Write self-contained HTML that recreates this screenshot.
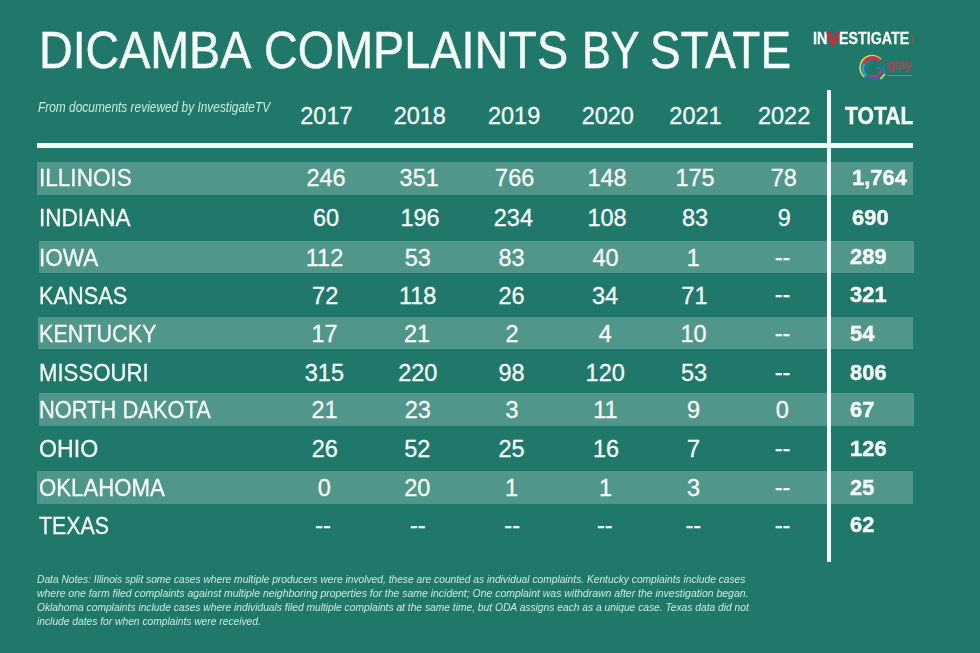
<!DOCTYPE html>
<html><head><meta charset="utf-8"><style>
html,body{margin:0;padding:0;}
body{width:980px;height:653px;background:#20786a;position:relative;overflow:hidden;font-family:"Liberation Sans",sans-serif;}
.t{position:absolute;white-space:nowrap;}
.r{position:absolute;}
</style></head><body>
<div class="r" style="left:37.00px;top:162.00px;width:875.50px;height:32.60px;background:#51968a"></div>
<div class="r" style="left:39.00px;top:241.00px;width:875.20px;height:32.30px;background:#51968a"></div>
<div class="r" style="left:37.50px;top:316.80px;width:875.90px;height:32.60px;background:#51968a"></div>
<div class="r" style="left:38.50px;top:393.00px;width:875.70px;height:32.70px;background:#51968a"></div>
<div class="r" style="left:37.00px;top:470.60px;width:876.00px;height:33.00px;background:#51968a"></div>
<div class="r" style="left:37.00px;top:143.00px;width:876.00px;height:5.00px;background:#f6fbf8"></div>
<div class="r" style="left:827.00px;top:90.00px;width:4.00px;height:472.00px;background:#f6fbf8"></div>
<div class="t" style="left:38.87px;top:24.3px;font-size:52.4px;line-height:52.4px;color:#f6fbf8;transform:scaleX(0.8893);transform-origin:0 0;-webkit-text-stroke:0.5px #f6fbf8">DICAMBA</div>
<div class="t" style="left:263.85px;top:24.3px;font-size:52.4px;line-height:52.4px;color:#f6fbf8;transform:scaleX(0.8928);transform-origin:0 0;-webkit-text-stroke:0.5px #f6fbf8">COMPLAINTS</div>
<div class="t" style="left:581.93px;top:24.3px;font-size:52.4px;line-height:52.4px;color:#f6fbf8;transform:scaleX(0.8234);transform-origin:0 0;-webkit-text-stroke:0.5px #f6fbf8">BY</div>
<div class="t" style="left:649.70px;top:24.3px;font-size:52.4px;line-height:52.4px;color:#f6fbf8;transform:scaleX(0.8752);transform-origin:0 0;-webkit-text-stroke:0.5px #f6fbf8">STATE</div>
<div class="t" style="left:812.6px;top:30.1px;font-size:16px;line-height:18px;font-weight:700;color:#f6fbf8;-webkit-text-stroke:0.3px #f6fbf8;transform:scaleX(0.91);transform-origin:0 0">IN</div>
<div class="t" style="left:838.9px;top:30.1px;font-size:16px;line-height:18px;font-weight:700;color:#f6fbf8;-webkit-text-stroke:0.3px #f6fbf8;transform:scaleX(0.89);transform-origin:0 0">ESTIGATE</div>
<svg class="r" style="left:0;top:0;filter:blur(0.3px)" width="980" height="60"><polygon points="826,32.1 830.2,32.1 833.2,40.5 836.2,32.1 840.2,32.1 834.7,45.6 831.2,45.6" fill="#d8253e"/></svg>
<div class="r" style="left:912px;top:35px;width:2px;height:10px;background:#b04850;opacity:0.45"></div>
<svg class="r" style="left:856.4px;top:50.7px;filter:blur(0.45px)" width="36" height="34" viewBox="0 0 36 34">
<path d="M24.5 7.8 A11.5 11.5 0 1 0 7.8 25.5" fill="none" stroke="#e6d03e" stroke-width="1.7" stroke-linecap="round"/>
<path d="M23.8 9.8 A9.6 9.6 0 0 0 8 12.8" fill="none" stroke="#d8303c" stroke-width="3"/>
<path d="M8 12.8 A9.6 9.6 0 0 0 10.5 25" fill="none" stroke="#22a4dc" stroke-width="2.4"/>
<path d="M10.5 25 A9.6 9.6 0 0 0 25.5 23" fill="none" stroke="#2c64c4" stroke-width="2.4"/>
<path d="M13 24 A8 8 0 0 0 24.5 21 L26 17.5" fill="none" stroke="#d53452" stroke-width="1.8"/>
<path d="M10 16 A7.5 7.5 0 0 1 16.5 9.5" fill="none" stroke="#2a7ad0" stroke-width="1.4"/>
<path d="M20 17.2 L28 17.2 L28.5 22" fill="none" stroke="#2f6ec8" stroke-width="1.8"/>
<path d="M24.5 28 L29 23" fill="none" stroke="#e6de46" stroke-width="1.8"/>
</svg>
<div class="t" style="left:887.5px;top:56.8px;font-size:13px;line-height:16px;font-weight:400;color:#c43f4e;-webkit-text-stroke:0.3px #c43f4e;transform:scaleX(0.95);transform-origin:0 0;">gray</div>
<div class="r" style="left:888px;top:74.5px;width:24px;height:1px;background:#9ab4ac;opacity:0.45"></div>

<div class="t" style="left:37.80px;top:99.04px;font-size:15px;line-height:15px;font-weight:400;font-style:italic;color:#cbeade;transform:scaleX(0.7935);transform-origin:0 0;">From documents reviewed by InvestigateTV</div>
<div class="t" style="left:126.40px;width:400px;text-align:center;top:105.13px;font-size:23.5px;line-height:23.5px;font-weight:400;font-style:normal;color:#f6fbf8;transform:scaleX(1.0);transform-origin:50% 0;-webkit-text-stroke:0.3px #f6fbf8;">2017</div>
<div class="t" style="left:219.80px;width:400px;text-align:center;top:105.13px;font-size:23.5px;line-height:23.5px;font-weight:400;font-style:normal;color:#f6fbf8;transform:scaleX(1.0);transform-origin:50% 0;-webkit-text-stroke:0.3px #f6fbf8;">2018</div>
<div class="t" style="left:314.10px;width:400px;text-align:center;top:105.13px;font-size:23.5px;line-height:23.5px;font-weight:400;font-style:normal;color:#f6fbf8;transform:scaleX(1.0);transform-origin:50% 0;-webkit-text-stroke:0.3px #f6fbf8;">2019</div>
<div class="t" style="left:407.80px;width:400px;text-align:center;top:105.13px;font-size:23.5px;line-height:23.5px;font-weight:400;font-style:normal;color:#f6fbf8;transform:scaleX(1.0);transform-origin:50% 0;-webkit-text-stroke:0.3px #f6fbf8;">2020</div>
<div class="t" style="left:495.50px;width:400px;text-align:center;top:105.13px;font-size:23.5px;line-height:23.5px;font-weight:400;font-style:normal;color:#f6fbf8;transform:scaleX(1.0);transform-origin:50% 0;-webkit-text-stroke:0.3px #f6fbf8;">2021</div>
<div class="t" style="left:584.10px;width:400px;text-align:center;top:105.13px;font-size:23.5px;line-height:23.5px;font-weight:400;font-style:normal;color:#f6fbf8;transform:scaleX(1.0);transform-origin:50% 0;-webkit-text-stroke:0.3px #f6fbf8;">2022</div>
<div class="t" style="left:845.20px;top:104.53px;font-size:23.5px;line-height:23.5px;font-weight:700;font-style:normal;color:#f6fbf8;transform:scaleX(0.9);transform-origin:0 0;-webkit-text-stroke:0.45px #f6fbf8;">TOTAL</div>
<div class="t" style="left:38.50px;top:167.03px;font-size:23.5px;line-height:23.5px;font-weight:400;font-style:normal;color:#f6fbf8;transform:scaleX(0.96);transform-origin:0 0;-webkit-text-stroke:0.3px #f6fbf8;">ILLINOIS</div>
<div class="t" style="left:126.00px;width:400px;text-align:center;top:167.03px;font-size:23.5px;line-height:23.5px;font-weight:400;font-style:normal;color:#f6fbf8;transform:scaleX(1.0);transform-origin:50% 0;-webkit-text-stroke:0.3px #f6fbf8;">246</div>
<div class="t" style="left:219.20px;width:400px;text-align:center;top:167.03px;font-size:23.5px;line-height:23.5px;font-weight:400;font-style:normal;color:#f6fbf8;transform:scaleX(1.0);transform-origin:50% 0;-webkit-text-stroke:0.3px #f6fbf8;">351</div>
<div class="t" style="left:314.70px;width:400px;text-align:center;top:167.03px;font-size:23.5px;line-height:23.5px;font-weight:400;font-style:normal;color:#f6fbf8;transform:scaleX(1.0);transform-origin:50% 0;-webkit-text-stroke:0.3px #f6fbf8;">766</div>
<div class="t" style="left:407.00px;width:400px;text-align:center;top:167.03px;font-size:23.5px;line-height:23.5px;font-weight:400;font-style:normal;color:#f6fbf8;transform:scaleX(1.0);transform-origin:50% 0;-webkit-text-stroke:0.3px #f6fbf8;">148</div>
<div class="t" style="left:495.00px;width:400px;text-align:center;top:167.03px;font-size:23.5px;line-height:23.5px;font-weight:400;font-style:normal;color:#f6fbf8;transform:scaleX(1.0);transform-origin:50% 0;-webkit-text-stroke:0.3px #f6fbf8;">175</div>
<div class="t" style="left:583.80px;width:400px;text-align:center;top:167.03px;font-size:23.5px;line-height:23.5px;font-weight:400;font-style:normal;color:#f6fbf8;transform:scaleX(1.0);transform-origin:50% 0;-webkit-text-stroke:0.3px #f6fbf8;">78</div>
<div class="t" style="left:852.00px;top:167.79px;font-size:21.5px;line-height:21.5px;font-weight:700;font-style:normal;color:#f6fbf8;transform:scaleX(1.02);transform-origin:0 0;-webkit-text-stroke:0.45px #f6fbf8;">1,764</div>
<div class="t" style="left:38.50px;top:207.43px;font-size:23.5px;line-height:23.5px;font-weight:400;font-style:normal;color:#f6fbf8;transform:scaleX(0.96);transform-origin:0 0;-webkit-text-stroke:0.3px #f6fbf8;">INDIANA</div>
<div class="t" style="left:126.00px;width:400px;text-align:center;top:207.43px;font-size:23.5px;line-height:23.5px;font-weight:400;font-style:normal;color:#f6fbf8;transform:scaleX(1.0);transform-origin:50% 0;-webkit-text-stroke:0.3px #f6fbf8;">60</div>
<div class="t" style="left:220.10px;width:400px;text-align:center;top:207.43px;font-size:23.5px;line-height:23.5px;font-weight:400;font-style:normal;color:#f6fbf8;transform:scaleX(1.0);transform-origin:50% 0;-webkit-text-stroke:0.3px #f6fbf8;">196</div>
<div class="t" style="left:313.40px;width:400px;text-align:center;top:207.43px;font-size:23.5px;line-height:23.5px;font-weight:400;font-style:normal;color:#f6fbf8;transform:scaleX(1.0);transform-origin:50% 0;-webkit-text-stroke:0.3px #f6fbf8;">234</div>
<div class="t" style="left:407.00px;width:400px;text-align:center;top:207.43px;font-size:23.5px;line-height:23.5px;font-weight:400;font-style:normal;color:#f6fbf8;transform:scaleX(1.0);transform-origin:50% 0;-webkit-text-stroke:0.3px #f6fbf8;">108</div>
<div class="t" style="left:495.00px;width:400px;text-align:center;top:207.43px;font-size:23.5px;line-height:23.5px;font-weight:400;font-style:normal;color:#f6fbf8;transform:scaleX(1.0);transform-origin:50% 0;-webkit-text-stroke:0.3px #f6fbf8;">83</div>
<div class="t" style="left:584.20px;width:400px;text-align:center;top:207.43px;font-size:23.5px;line-height:23.5px;font-weight:400;font-style:normal;color:#f6fbf8;transform:scaleX(1.0);transform-origin:50% 0;-webkit-text-stroke:0.3px #f6fbf8;">9</div>
<div class="t" style="left:852.00px;top:208.19px;font-size:21.5px;line-height:21.5px;font-weight:700;font-style:normal;color:#f6fbf8;transform:scaleX(1.02);transform-origin:0 0;-webkit-text-stroke:0.45px #f6fbf8;">690</div>
<div class="t" style="left:38.50px;top:246.63px;font-size:23.5px;line-height:23.5px;font-weight:400;font-style:normal;color:#f6fbf8;transform:scaleX(0.96);transform-origin:0 0;-webkit-text-stroke:0.3px #f6fbf8;">IOWA</div>
<div class="t" style="left:124.50px;width:400px;text-align:center;top:246.63px;font-size:23.5px;line-height:23.5px;font-weight:400;font-style:normal;color:#f6fbf8;transform:scaleX(1.0);transform-origin:50% 0;-webkit-text-stroke:0.3px #f6fbf8;">112</div>
<div class="t" style="left:217.80px;width:400px;text-align:center;top:246.63px;font-size:23.5px;line-height:23.5px;font-weight:400;font-style:normal;color:#f6fbf8;transform:scaleX(1.0);transform-origin:50% 0;-webkit-text-stroke:0.3px #f6fbf8;">53</div>
<div class="t" style="left:311.50px;width:400px;text-align:center;top:246.63px;font-size:23.5px;line-height:23.5px;font-weight:400;font-style:normal;color:#f6fbf8;transform:scaleX(1.0);transform-origin:50% 0;-webkit-text-stroke:0.3px #f6fbf8;">83</div>
<div class="t" style="left:405.50px;width:400px;text-align:center;top:246.63px;font-size:23.5px;line-height:23.5px;font-weight:400;font-style:normal;color:#f6fbf8;transform:scaleX(1.0);transform-origin:50% 0;-webkit-text-stroke:0.3px #f6fbf8;">40</div>
<div class="t" style="left:493.40px;width:400px;text-align:center;top:246.63px;font-size:23.5px;line-height:23.5px;font-weight:400;font-style:normal;color:#f6fbf8;transform:scaleX(1.0);transform-origin:50% 0;-webkit-text-stroke:0.3px #f6fbf8;">1</div>
<div class="t" style="left:582.50px;width:400px;text-align:center;top:245.53px;font-size:23.5px;line-height:23.5px;font-weight:400;font-style:normal;color:#f6fbf8;transform:scaleX(1.0);transform-origin:50% 0;-webkit-text-stroke:0.3px #f6fbf8;">--</div>
<div class="t" style="left:850.20px;top:247.39px;font-size:21.5px;line-height:21.5px;font-weight:700;font-style:normal;color:#f6fbf8;transform:scaleX(1.02);transform-origin:0 0;-webkit-text-stroke:0.45px #f6fbf8;">289</div>
<div class="t" style="left:38.50px;top:284.53px;font-size:23.5px;line-height:23.5px;font-weight:400;font-style:normal;color:#f6fbf8;transform:scaleX(0.9242033898305085);transform-origin:0 0;-webkit-text-stroke:0.3px #f6fbf8;">KANSAS</div>
<div class="t" style="left:125.20px;width:400px;text-align:center;top:284.53px;font-size:23.5px;line-height:23.5px;font-weight:400;font-style:normal;color:#f6fbf8;transform:scaleX(1.0);transform-origin:50% 0;-webkit-text-stroke:0.3px #f6fbf8;">72</div>
<div class="t" style="left:217.70px;width:400px;text-align:center;top:284.53px;font-size:23.5px;line-height:23.5px;font-weight:400;font-style:normal;color:#f6fbf8;transform:scaleX(1.0);transform-origin:50% 0;-webkit-text-stroke:0.3px #f6fbf8;">118</div>
<div class="t" style="left:311.50px;width:400px;text-align:center;top:284.53px;font-size:23.5px;line-height:23.5px;font-weight:400;font-style:normal;color:#f6fbf8;transform:scaleX(1.0);transform-origin:50% 0;-webkit-text-stroke:0.3px #f6fbf8;">26</div>
<div class="t" style="left:405.00px;width:400px;text-align:center;top:284.53px;font-size:23.5px;line-height:23.5px;font-weight:400;font-style:normal;color:#f6fbf8;transform:scaleX(1.0);transform-origin:50% 0;-webkit-text-stroke:0.3px #f6fbf8;">34</div>
<div class="t" style="left:494.40px;width:400px;text-align:center;top:284.53px;font-size:23.5px;line-height:23.5px;font-weight:400;font-style:normal;color:#f6fbf8;transform:scaleX(1.0);transform-origin:50% 0;-webkit-text-stroke:0.3px #f6fbf8;">71</div>
<div class="t" style="left:582.50px;width:400px;text-align:center;top:283.43px;font-size:23.5px;line-height:23.5px;font-weight:400;font-style:normal;color:#f6fbf8;transform:scaleX(1.0);transform-origin:50% 0;-webkit-text-stroke:0.3px #f6fbf8;">--</div>
<div class="t" style="left:850.20px;top:285.29px;font-size:21.5px;line-height:21.5px;font-weight:700;font-style:normal;color:#f6fbf8;transform:scaleX(1.02);transform-origin:0 0;-webkit-text-stroke:0.45px #f6fbf8;">321</div>
<div class="t" style="left:38.50px;top:323.33px;font-size:23.5px;line-height:23.5px;font-weight:400;font-style:normal;color:#f6fbf8;transform:scaleX(0.9177759336099585);transform-origin:0 0;-webkit-text-stroke:0.3px #f6fbf8;">KENTUCKY</div>
<div class="t" style="left:124.50px;width:400px;text-align:center;top:323.33px;font-size:23.5px;line-height:23.5px;font-weight:400;font-style:normal;color:#f6fbf8;transform:scaleX(1.0);transform-origin:50% 0;-webkit-text-stroke:0.3px #f6fbf8;">17</div>
<div class="t" style="left:217.00px;width:400px;text-align:center;top:323.33px;font-size:23.5px;line-height:23.5px;font-weight:400;font-style:normal;color:#f6fbf8;transform:scaleX(1.0);transform-origin:50% 0;-webkit-text-stroke:0.3px #f6fbf8;">21</div>
<div class="t" style="left:312.00px;width:400px;text-align:center;top:323.33px;font-size:23.5px;line-height:23.5px;font-weight:400;font-style:normal;color:#f6fbf8;transform:scaleX(1.0);transform-origin:50% 0;-webkit-text-stroke:0.3px #f6fbf8;">2</div>
<div class="t" style="left:405.40px;width:400px;text-align:center;top:323.33px;font-size:23.5px;line-height:23.5px;font-weight:400;font-style:normal;color:#f6fbf8;transform:scaleX(1.0);transform-origin:50% 0;-webkit-text-stroke:0.3px #f6fbf8;">4</div>
<div class="t" style="left:493.50px;width:400px;text-align:center;top:323.33px;font-size:23.5px;line-height:23.5px;font-weight:400;font-style:normal;color:#f6fbf8;transform:scaleX(1.0);transform-origin:50% 0;-webkit-text-stroke:0.3px #f6fbf8;">10</div>
<div class="t" style="left:582.50px;width:400px;text-align:center;top:322.23px;font-size:23.5px;line-height:23.5px;font-weight:400;font-style:normal;color:#f6fbf8;transform:scaleX(1.0);transform-origin:50% 0;-webkit-text-stroke:0.3px #f6fbf8;">--</div>
<div class="t" style="left:850.20px;top:324.09px;font-size:21.5px;line-height:21.5px;font-weight:700;font-style:normal;color:#f6fbf8;transform:scaleX(1.02);transform-origin:0 0;-webkit-text-stroke:0.45px #f6fbf8;">54</div>
<div class="t" style="left:38.50px;top:361.93px;font-size:23.5px;line-height:23.5px;font-weight:400;font-style:normal;color:#f6fbf8;transform:scaleX(0.9430325581395348);transform-origin:0 0;-webkit-text-stroke:0.3px #f6fbf8;">MISSOURI</div>
<div class="t" style="left:124.40px;width:400px;text-align:center;top:361.93px;font-size:23.5px;line-height:23.5px;font-weight:400;font-style:normal;color:#f6fbf8;transform:scaleX(1.0);transform-origin:50% 0;-webkit-text-stroke:0.3px #f6fbf8;">315</div>
<div class="t" style="left:217.80px;width:400px;text-align:center;top:361.93px;font-size:23.5px;line-height:23.5px;font-weight:400;font-style:normal;color:#f6fbf8;transform:scaleX(1.0);transform-origin:50% 0;-webkit-text-stroke:0.3px #f6fbf8;">220</div>
<div class="t" style="left:311.50px;width:400px;text-align:center;top:361.93px;font-size:23.5px;line-height:23.5px;font-weight:400;font-style:normal;color:#f6fbf8;transform:scaleX(1.0);transform-origin:50% 0;-webkit-text-stroke:0.3px #f6fbf8;">98</div>
<div class="t" style="left:405.20px;width:400px;text-align:center;top:361.93px;font-size:23.5px;line-height:23.5px;font-weight:400;font-style:normal;color:#f6fbf8;transform:scaleX(1.0);transform-origin:50% 0;-webkit-text-stroke:0.3px #f6fbf8;">120</div>
<div class="t" style="left:494.10px;width:400px;text-align:center;top:361.93px;font-size:23.5px;line-height:23.5px;font-weight:400;font-style:normal;color:#f6fbf8;transform:scaleX(1.0);transform-origin:50% 0;-webkit-text-stroke:0.3px #f6fbf8;">53</div>
<div class="t" style="left:582.50px;width:400px;text-align:center;top:360.83px;font-size:23.5px;line-height:23.5px;font-weight:400;font-style:normal;color:#f6fbf8;transform:scaleX(1.0);transform-origin:50% 0;-webkit-text-stroke:0.3px #f6fbf8;">--</div>
<div class="t" style="left:850.20px;top:362.69px;font-size:21.5px;line-height:21.5px;font-weight:700;font-style:normal;color:#f6fbf8;transform:scaleX(1.02);transform-origin:0 0;-webkit-text-stroke:0.45px #f6fbf8;">806</div>
<div class="t" style="left:38.50px;top:399.43px;font-size:23.5px;line-height:23.5px;font-weight:400;font-style:normal;color:#f6fbf8;transform:scaleX(0.9315555555555556);transform-origin:0 0;-webkit-text-stroke:0.3px #f6fbf8;">NORTH DAKOTA</div>
<div class="t" style="left:124.60px;width:400px;text-align:center;top:399.43px;font-size:23.5px;line-height:23.5px;font-weight:400;font-style:normal;color:#f6fbf8;transform:scaleX(1.0);transform-origin:50% 0;-webkit-text-stroke:0.3px #f6fbf8;">21</div>
<div class="t" style="left:217.80px;width:400px;text-align:center;top:399.43px;font-size:23.5px;line-height:23.5px;font-weight:400;font-style:normal;color:#f6fbf8;transform:scaleX(1.0);transform-origin:50% 0;-webkit-text-stroke:0.3px #f6fbf8;">23</div>
<div class="t" style="left:312.00px;width:400px;text-align:center;top:399.43px;font-size:23.5px;line-height:23.5px;font-weight:400;font-style:normal;color:#f6fbf8;transform:scaleX(1.0);transform-origin:50% 0;-webkit-text-stroke:0.3px #f6fbf8;">3</div>
<div class="t" style="left:405.50px;width:400px;text-align:center;top:399.43px;font-size:23.5px;line-height:23.5px;font-weight:400;font-style:normal;color:#f6fbf8;transform:scaleX(1.0);transform-origin:50% 0;-webkit-text-stroke:0.3px #f6fbf8;">11</div>
<div class="t" style="left:493.60px;width:400px;text-align:center;top:399.43px;font-size:23.5px;line-height:23.5px;font-weight:400;font-style:normal;color:#f6fbf8;transform:scaleX(1.0);transform-origin:50% 0;-webkit-text-stroke:0.3px #f6fbf8;">9</div>
<div class="t" style="left:582.20px;width:400px;text-align:center;top:399.43px;font-size:23.5px;line-height:23.5px;font-weight:400;font-style:normal;color:#f6fbf8;transform:scaleX(1.0);transform-origin:50% 0;-webkit-text-stroke:0.3px #f6fbf8;">0</div>
<div class="t" style="left:850.20px;top:400.19px;font-size:21.5px;line-height:21.5px;font-weight:700;font-style:normal;color:#f6fbf8;transform:scaleX(1.02);transform-origin:0 0;-webkit-text-stroke:0.45px #f6fbf8;">67</div>
<div class="t" style="left:38.50px;top:437.83px;font-size:23.5px;line-height:23.5px;font-weight:400;font-style:normal;color:#f6fbf8;transform:scaleX(0.9846605504587155);transform-origin:0 0;-webkit-text-stroke:0.3px #f6fbf8;">OHIO</div>
<div class="t" style="left:124.80px;width:400px;text-align:center;top:437.83px;font-size:23.5px;line-height:23.5px;font-weight:400;font-style:normal;color:#f6fbf8;transform:scaleX(1.0);transform-origin:50% 0;-webkit-text-stroke:0.3px #f6fbf8;">26</div>
<div class="t" style="left:217.30px;width:400px;text-align:center;top:437.83px;font-size:23.5px;line-height:23.5px;font-weight:400;font-style:normal;color:#f6fbf8;transform:scaleX(1.0);transform-origin:50% 0;-webkit-text-stroke:0.3px #f6fbf8;">52</div>
<div class="t" style="left:311.50px;width:400px;text-align:center;top:437.83px;font-size:23.5px;line-height:23.5px;font-weight:400;font-style:normal;color:#f6fbf8;transform:scaleX(1.0);transform-origin:50% 0;-webkit-text-stroke:0.3px #f6fbf8;">25</div>
<div class="t" style="left:406.00px;width:400px;text-align:center;top:437.83px;font-size:23.5px;line-height:23.5px;font-weight:400;font-style:normal;color:#f6fbf8;transform:scaleX(1.0);transform-origin:50% 0;-webkit-text-stroke:0.3px #f6fbf8;">16</div>
<div class="t" style="left:493.60px;width:400px;text-align:center;top:437.83px;font-size:23.5px;line-height:23.5px;font-weight:400;font-style:normal;color:#f6fbf8;transform:scaleX(1.0);transform-origin:50% 0;-webkit-text-stroke:0.3px #f6fbf8;">7</div>
<div class="t" style="left:582.50px;width:400px;text-align:center;top:436.73px;font-size:23.5px;line-height:23.5px;font-weight:400;font-style:normal;color:#f6fbf8;transform:scaleX(1.0);transform-origin:50% 0;-webkit-text-stroke:0.3px #f6fbf8;">--</div>
<div class="t" style="left:850.20px;top:438.59px;font-size:21.5px;line-height:21.5px;font-weight:700;font-style:normal;color:#f6fbf8;transform:scaleX(1.02);transform-origin:0 0;-webkit-text-stroke:0.45px #f6fbf8;">126</div>
<div class="t" style="left:38.50px;top:477.13px;font-size:23.5px;line-height:23.5px;font-weight:400;font-style:normal;color:#f6fbf8;transform:scaleX(0.9448221343873517);transform-origin:0 0;-webkit-text-stroke:0.3px #f6fbf8;">OKLAHOMA</div>
<div class="t" style="left:124.30px;width:400px;text-align:center;top:477.13px;font-size:23.5px;line-height:23.5px;font-weight:400;font-style:normal;color:#f6fbf8;transform:scaleX(1.0);transform-origin:50% 0;-webkit-text-stroke:0.3px #f6fbf8;">0</div>
<div class="t" style="left:217.30px;width:400px;text-align:center;top:477.13px;font-size:23.5px;line-height:23.5px;font-weight:400;font-style:normal;color:#f6fbf8;transform:scaleX(1.0);transform-origin:50% 0;-webkit-text-stroke:0.3px #f6fbf8;">20</div>
<div class="t" style="left:311.50px;width:400px;text-align:center;top:477.13px;font-size:23.5px;line-height:23.5px;font-weight:400;font-style:normal;color:#f6fbf8;transform:scaleX(1.0);transform-origin:50% 0;-webkit-text-stroke:0.3px #f6fbf8;">1</div>
<div class="t" style="left:405.50px;width:400px;text-align:center;top:477.13px;font-size:23.5px;line-height:23.5px;font-weight:400;font-style:normal;color:#f6fbf8;transform:scaleX(1.0);transform-origin:50% 0;-webkit-text-stroke:0.3px #f6fbf8;">1</div>
<div class="t" style="left:493.60px;width:400px;text-align:center;top:477.13px;font-size:23.5px;line-height:23.5px;font-weight:400;font-style:normal;color:#f6fbf8;transform:scaleX(1.0);transform-origin:50% 0;-webkit-text-stroke:0.3px #f6fbf8;">3</div>
<div class="t" style="left:582.50px;width:400px;text-align:center;top:476.03px;font-size:23.5px;line-height:23.5px;font-weight:400;font-style:normal;color:#f6fbf8;transform:scaleX(1.0);transform-origin:50% 0;-webkit-text-stroke:0.3px #f6fbf8;">--</div>
<div class="t" style="left:850.20px;top:477.89px;font-size:21.5px;line-height:21.5px;font-weight:700;font-style:normal;color:#f6fbf8;transform:scaleX(1.02);transform-origin:0 0;-webkit-text-stroke:0.45px #f6fbf8;">25</div>
<div class="t" style="left:38.50px;top:514.63px;font-size:23.5px;line-height:23.5px;font-weight:400;font-style:normal;color:#f6fbf8;transform:scaleX(0.9076363636363635);transform-origin:0 0;-webkit-text-stroke:0.3px #f6fbf8;">TEXAS</div>
<div class="t" style="left:123.10px;width:400px;text-align:center;top:513.53px;font-size:23.5px;line-height:23.5px;font-weight:400;font-style:normal;color:#f6fbf8;transform:scaleX(1.0);transform-origin:50% 0;-webkit-text-stroke:0.3px #f6fbf8;">--</div>
<div class="t" style="left:217.80px;width:400px;text-align:center;top:513.53px;font-size:23.5px;line-height:23.5px;font-weight:400;font-style:normal;color:#f6fbf8;transform:scaleX(1.0);transform-origin:50% 0;-webkit-text-stroke:0.3px #f6fbf8;">--</div>
<div class="t" style="left:312.20px;width:400px;text-align:center;top:513.53px;font-size:23.5px;line-height:23.5px;font-weight:400;font-style:normal;color:#f6fbf8;transform:scaleX(1.0);transform-origin:50% 0;-webkit-text-stroke:0.3px #f6fbf8;">--</div>
<div class="t" style="left:404.80px;width:400px;text-align:center;top:513.53px;font-size:23.5px;line-height:23.5px;font-weight:400;font-style:normal;color:#f6fbf8;transform:scaleX(1.0);transform-origin:50% 0;-webkit-text-stroke:0.3px #f6fbf8;">--</div>
<div class="t" style="left:493.30px;width:400px;text-align:center;top:513.53px;font-size:23.5px;line-height:23.5px;font-weight:400;font-style:normal;color:#f6fbf8;transform:scaleX(1.0);transform-origin:50% 0;-webkit-text-stroke:0.3px #f6fbf8;">--</div>
<div class="t" style="left:582.50px;width:400px;text-align:center;top:513.53px;font-size:23.5px;line-height:23.5px;font-weight:400;font-style:normal;color:#f6fbf8;transform:scaleX(1.0);transform-origin:50% 0;-webkit-text-stroke:0.3px #f6fbf8;">--</div>
<div class="t" style="left:850.20px;top:515.39px;font-size:21.5px;line-height:21.5px;font-weight:700;font-style:normal;color:#f6fbf8;transform:scaleX(1.02);transform-origin:0 0;-webkit-text-stroke:0.45px #f6fbf8;">62</div>
<div class="t" style="left:37.00px;top:574.13px;font-size:10.5px;line-height:10.5px;font-weight:400;font-style:italic;color:#cbeade;transform:scaleX(0.9734);transform-origin:0 0;">Data Notes: Illinois split some cases where multiple producers were involved, these are counted as individual complaints. Kentucky complaints include cases</div>
<div class="t" style="left:37.00px;top:587.93px;font-size:10.5px;line-height:10.5px;font-weight:400;font-style:italic;color:#cbeade;transform:scaleX(0.995);transform-origin:0 0;">where one farm filed complaints against multiple neighboring properties for the same incident; One complaint was withdrawn after the investigation began.</div>
<div class="t" style="left:37.00px;top:601.73px;font-size:10.5px;line-height:10.5px;font-weight:400;font-style:italic;color:#cbeade;transform:scaleX(0.976);transform-origin:0 0;">Oklahoma complaints include cases where individuals filed multiple complaints at the same time, but ODA assigns each as a unique case. Texas data did not</div>
<div class="t" style="left:37.00px;top:615.53px;font-size:10.5px;line-height:10.5px;font-weight:400;font-style:italic;color:#cbeade;transform:scaleX(0.976);transform-origin:0 0;">include dates for when complaints were received.</div>
</body></html>
